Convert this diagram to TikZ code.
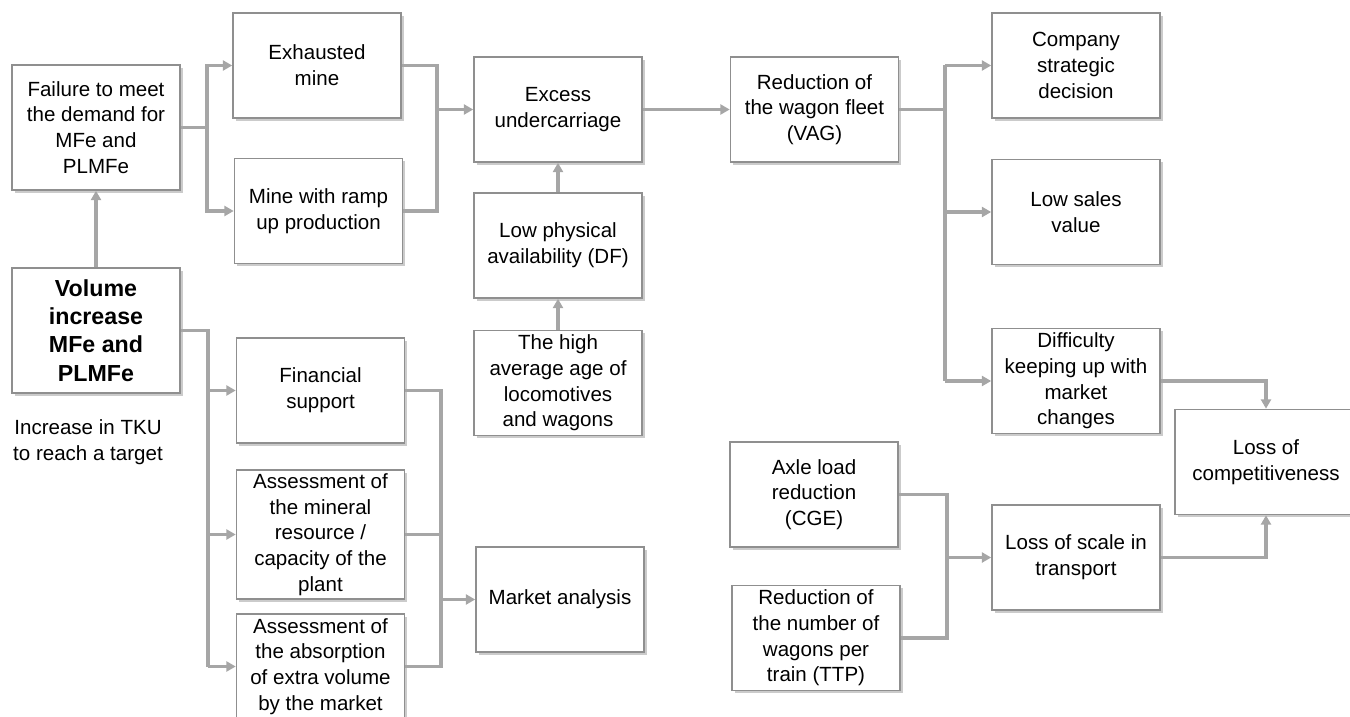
\documentclass[tikz,border=0pt]{standalone}
\usepackage{fontspec}
\setmainfont{Liberation Sans}
\usetikzlibrary{arrows.meta,shadows,calc}
\definecolor{boxline}{HTML}{8F8F8F}
\definecolor{conline}{HTML}{A6A6A6}
\begin{document}
\begin{tikzpicture}[x=0.75pt,y=-0.75pt,
  box/.style={draw=boxline,line width=1.2pt,fill=white,align=center,inner sep=0pt,
    minimum width=126pt,minimum height=78.75pt,
    font=\fontsize{15.4}{19.3}\selectfont,
    drop shadow={shadow xshift=2.2pt,shadow yshift=-2.2pt,opacity=0.45,fill=black!45}},
  bigbox/.style={box,font=\bfseries\fontsize{17.4}{21.2}\selectfont},
  conn/.style={draw=conline,line width=2.4pt},
  arr/.style={conn,-{Triangle[length=7pt,width=7.5pt]}},
  plain/.style={align=center,inner sep=0pt,font=\fontsize{15.4}{19.3}\selectfont}]
\useasboundingbox (0,0) rectangle (1350,717);
\clip (0,0) rectangle (1350,717);
% nodes
\node[box,minimum height=93.75pt] (fail) at (96,127.5) {Failure to meet\\the demand for\\MFe and\\PLMFe};
\node[box] (exh) at (317,65.5) {Exhausted\\mine};
\node[box] (ramp) at (318.5,211) {Mine with ramp\\up production};
\node[bigbox,minimum height=93.75pt] (vol) at (96,330.5) {Volume\\increase\\MFe and\\PLMFe};
\node[plain] (tku) at (88,442) {Increase in TKU\\to reach a target};
\node[box] (fin) at (320.5,390.5) {Financial\\support};
\node[box,minimum height=96.75pt] (mineral) at (320.5,534.5) {Assessment of\\the mineral\\resource /\\capacity of the\\plant};
\node[box] (absorb) at (320.5,666.5) {Assessment of\\the absorption\\of extra volume\\by the market};
\node[box] (excess) at (558,109.5) {Excess\\undercarriage};
\node[box] (lowphys) at (558,245.5) {Low physical\\availability (DF)};
\node[box] (highage) at (558,383) {The high\\average age of\\locomotives\\and wagons};
\node[box] (market) at (560,599.5) {Market analysis};
\node[box] (redfleet) at (814.5,109.5) {Reduction of\\the wagon fleet\\(VAG)};
\node[box] (company) at (1076,65.5) {Company\\strategic\\decision};
\node[box] (lowsales) at (1076,212) {Low sales\\value};
\node[box] (diff) at (1076,381) {Difficulty\\keeping up with\\market\\changes};
\node[box,minimum width=136.5pt] (losscomp) at (1266,462) {Loss of\\competitiveness};
\node[box] (axle) at (814,494.5) {Axle load\\reduction\\(CGE)};
\node[box] (rednum) at (816,638) {Reduction of\\the number of\\wagons per\\train (TTP)};
\node[box] (lossscale) at (1076,557.5) {Loss of scale in\\transport};
% junction columns
\coordinate (c1) at (207,0);
\coordinate (c2) at (437,0);
\coordinate (c3) at (208,0);
\coordinate (c4) at (441,0);
\coordinate (c5) at (945,0);
\coordinate (c6) at (947,0);
% connectors
\draw[conn] (fail.east) -- (fail.east -| c1);
\draw[arr] (fail.east -| c1) |- (exh.west);
\draw[arr] (fail.east -| c1) |- (ramp.west);
\draw[conn] (exh.east) -| (excess.west -| c2) |- (ramp.east);
\draw[arr] (excess.west -| c2) -- (excess.west);
\draw[arr] (vol.north) -- (fail.south);
\draw[conn] (vol.east) -| (absorb.west -| c3);
\draw[arr] (fin.west -| c3) -- (fin.west);
\draw[arr] (mineral.west -| c3) -- (mineral.west);
\draw[arr] (absorb.west -| c3) -- (absorb.west);
\draw[conn] (fin.east) -| (absorb.east -| c4) -- (absorb.east);
\draw[conn] (mineral.east) -- (mineral.east -| c4);
\draw[arr] (market.west -| c4) -- (market.west);
\draw[arr] (lowphys.north) -- (excess.south);
\draw[arr] (highage.north) -- (lowphys.south);
\draw[arr] (excess.east) -- (redfleet.west);
\draw[conn] (redfleet.east) -- (redfleet.east -| c5);
\draw[conn] (company.west -| c5) -- (diff.west -| c5);
\draw[arr] (company.west -| c5) -- (company.west);
\draw[arr] (lowsales.west -| c5) -- (lowsales.west);
\draw[arr] (diff.west -| c5) -- (diff.west);
\draw[arr] (diff.east) -| (losscomp.north);
\draw[arr] (lossscale.east) -| (losscomp.south);
\draw[conn] (axle.east) -| (lossscale.west -| c6) |- (rednum.east);
\draw[arr] (lossscale.west -| c6) -- (lossscale.west);
\end{tikzpicture}
\end{document}
